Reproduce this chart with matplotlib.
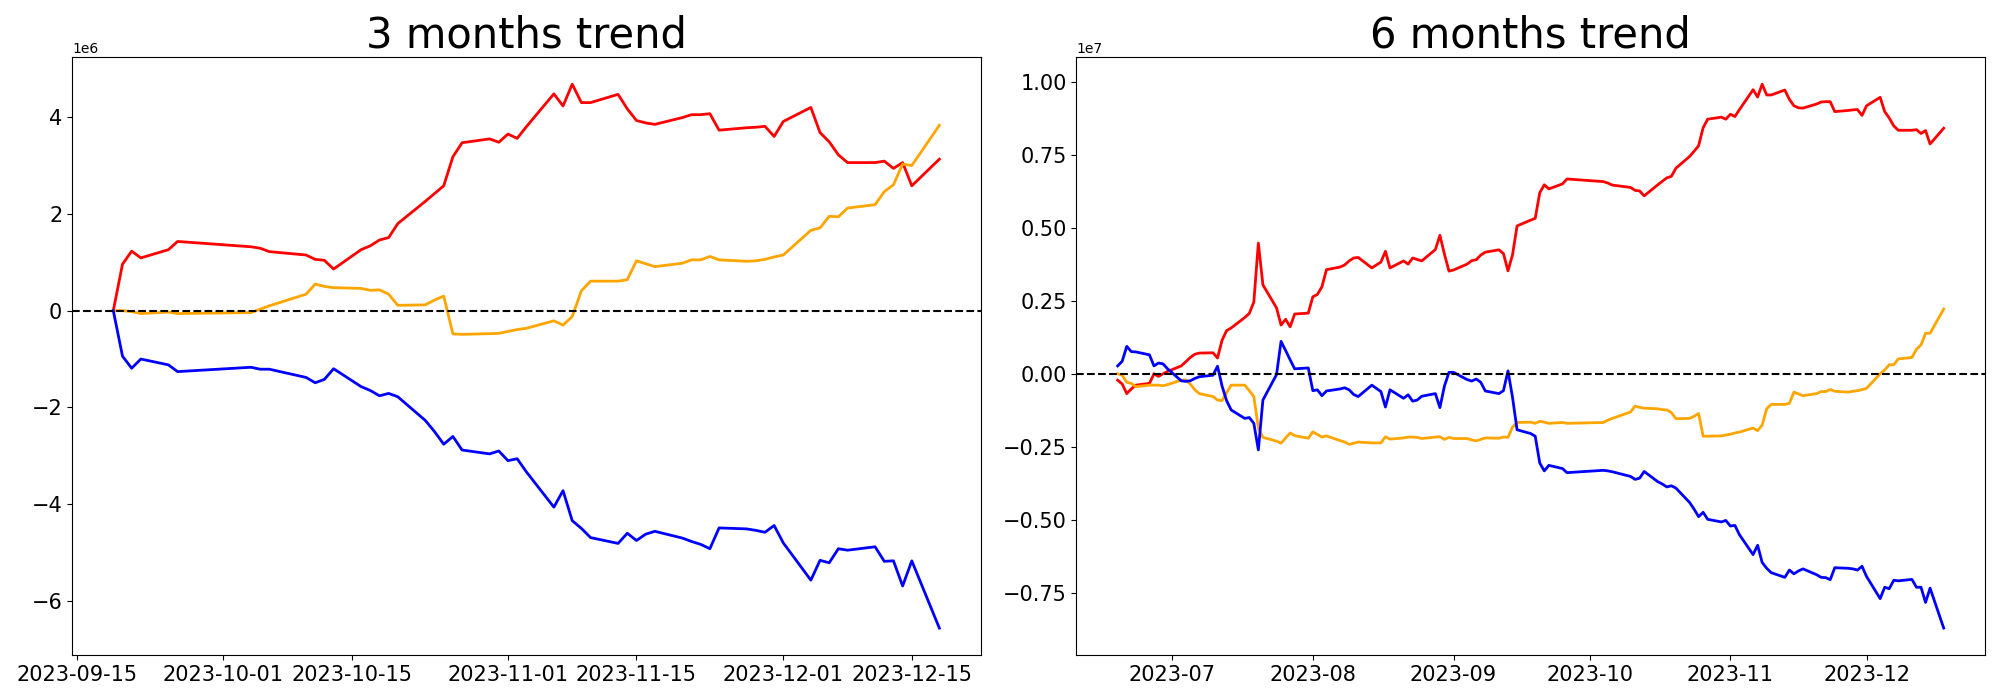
import numpy as np
import pandas as pd
import matplotlib.pyplot as plt

# trading days (market closed on these)
closed = ['2023-08-15', '2023-09-27', '2023-09-28', '2023-09-29',
          '2023-10-02', '2023-10-03', '2023-10-09']
days_6m = pd.bdate_range('2023-06-19', '2023-12-18').drop(pd.to_datetime(closed))
days_3m = days_6m[days_6m >= '2023-09-19']

# 3 months, units of 1e6
red_3m = [0, 0.96, 1.23, 1.09, 1.26, 1.43,
          1.32, 1.29, 1.22, 1.15, 1.06, 1.04, 0.86, 1.26, 1.34, 1.46, 1.51, 1.80, 2.26, 2.42, 2.58, 3.18, 3.47, 3.55, 3.48,
          3.65, 3.56, 3.80, 4.48, 4.23, 4.68, 4.30, 4.30, 4.47, 4.17, 3.93, 3.88, 3.85, 3.99, 4.05, 4.05, 4.07, 3.73, 3.78, 3.79, 3.81, 3.60,
          3.91, 4.20, 3.68, 3.49, 3.22, 3.06, 3.06, 3.09, 2.94, 3.06, 2.58, 3.13]
orange_3m = [0, 0.0, -0.02, -0.06, -0.03, -0.06,
             -0.04, 0.03, 0.10, 0.34, 0.55, 0.50, 0.475, 0.46, 0.42, 0.43, 0.34, 0.11, 0.12, 0.22, 0.30, -0.48, -0.49, -0.475, -0.47,
             -0.43, -0.39, -0.365, -0.21, -0.30, -0.12, 0.41, 0.61, 0.61, 0.64, 1.03, 0.97, 0.91, 0.98, 1.05, 1.05, 1.12, 1.05, 1.02, 1.03, 1.06, 1.11,
             1.15, 1.66, 1.71, 1.95, 1.94, 2.12, 2.19, 2.46, 2.60, 3.03, 3.00, 3.83]
blue_3m = [0, -0.94, -1.19, -1.0, -1.12, -1.26,
           -1.17, -1.21, -1.21, -1.38, -1.49, -1.42, -1.20, -1.57, -1.65, -1.76, -1.71, -1.78, -2.27, -2.50, -2.76, -2.60, -2.88, -2.96, -2.90,
           -3.10, -3.06, -3.33, -4.06, -3.72, -4.34, -4.50, -4.69, -4.81, -4.60, -4.75, -4.62, -4.56, -4.70, -4.77, -4.83, -4.92, -4.49, -4.51, -4.54, -4.58, -4.44,
           -4.80, -5.57, -5.16, -5.21, -4.92, -4.95, -4.88, -5.18, -5.17, -5.69, -5.17, -6.56]

# 6 months, units of 1e7
red_6m = [-0.022, -0.035, -0.068, -0.052, -0.039, -0.033, 0.0, -0.009, 0.0, 0.008,
          0.027, 0.041, 0.056, 0.067, 0.071, 0.072, 0.054, 0.115, 0.148, 0.157, 0.193, 0.207, 0.246, 0.448, 0.305, 0.226, 0.167, 0.187, 0.161, 0.205, 0.208,
          0.264, 0.272, 0.298, 0.357, 0.366, 0.373, 0.387, 0.397, 0.399, 0.363, 0.383, 0.42, 0.363, 0.387, 0.376, 0.397, 0.392, 0.387, 0.426, 0.475, 0.41, 0.352,
          0.356, 0.376, 0.388, 0.391, 0.407, 0.417, 0.425, 0.412, 0.353, 0.408, 0.507, 0.527, 0.533, 0.621, 0.648, 0.634, 0.651, 0.668,
          0.659, 0.654, 0.647, 0.639, 0.629, 0.627, 0.610, 0.648, 0.660, 0.672, 0.677, 0.705, 0.745, 0.763, 0.782, 0.844, 0.873, 0.880, 0.873,
          0.890, 0.882, 0.906, 0.974, 0.949, 0.993, 0.956, 0.956, 0.973, 0.941, 0.919, 0.912, 0.911, 0.925, 0.932, 0.933, 0.933, 0.899, 0.903, 0.905, 0.906, 0.886,
          0.919, 0.948, 0.899, 0.877, 0.850, 0.835, 0.835, 0.837, 0.824, 0.834, 0.788, 0.842]
orange_6m = [0.0, -0.005, -0.029, -0.033, -0.044, -0.039, -0.039, -0.039, -0.041, -0.037,
             -0.022, -0.021, -0.035, -0.055, -0.068, -0.078, -0.090, -0.092, -0.065, -0.039, -0.039, -0.058, -0.078, -0.186, -0.218, -0.231, -0.238, -0.22, -0.203, -0.212, -0.221,
             -0.199, -0.208, -0.217, -0.213, -0.229, -0.234, -0.242, -0.238, -0.234, -0.237, -0.237, -0.216, -0.224, -0.220, -0.217, -0.217, -0.218, -0.222, -0.217, -0.216, -0.225, -0.218,
             -0.222, -0.222, -0.227, -0.230, -0.225, -0.220, -0.221, -0.217, -0.218, -0.183, -0.167, -0.166, -0.170, -0.163, -0.166, -0.170, -0.167, -0.170,
             -0.167, -0.159, -0.153, -0.131, -0.111, -0.115, -0.118, -0.120, -0.123, -0.124, -0.133, -0.154, -0.153, -0.146, -0.136, -0.214, -0.214, -0.213, -0.210,
             -0.207, -0.203, -0.200, -0.186, -0.195, -0.176, -0.120, -0.105, -0.105, -0.101, -0.063, -0.069, -0.075, -0.068, -0.061, -0.061, -0.054, -0.060, -0.063, -0.060, -0.058, -0.054,
             -0.050, 0.0, 0.013, 0.031, 0.031, 0.051, 0.056, 0.084, 0.099, 0.139, 0.139, 0.222]
blue_6m = [0.027, 0.043, 0.094, 0.076, 0.075, 0.065, 0.027, 0.037, 0.034, 0.017,
           -0.024, -0.026, -0.024, -0.016, -0.010, -0.005, 0.026, -0.042, -0.092, -0.124, -0.153, -0.150, -0.170, -0.261, -0.090, -0.003, 0.111, 0.08, 0.048, 0.017, 0.020,
           -0.058, -0.055, -0.075, -0.059, -0.052, -0.048, -0.055, -0.071, -0.078, -0.039, -0.061, -0.114, -0.055, -0.084, -0.072, -0.094, -0.090, -0.077, -0.068, -0.116, -0.042, 0.005,
           0.005, -0.020, -0.025, -0.018, -0.029, -0.059, -0.068, -0.058, 0.010, -0.081, -0.192, -0.205, -0.214, -0.306, -0.333, -0.314, -0.325, -0.339,
           -0.331, -0.333, -0.336, -0.352, -0.362, -0.358, -0.335, -0.370, -0.378, -0.388, -0.384, -0.392, -0.441, -0.464, -0.490, -0.475, -0.499, -0.508, -0.503,
           -0.522, -0.520, -0.552, -0.620, -0.588, -0.647, -0.667, -0.682, -0.698, -0.673, -0.686, -0.676, -0.669, -0.689, -0.698, -0.699, -0.706, -0.665, -0.667, -0.669, -0.673, -0.660,
           -0.695, -0.771, -0.732, -0.737, -0.708, -0.710, -0.705, -0.732, -0.732, -0.784, -0.735, -0.872]

fig, axes = plt.subplots(1, 2, figsize=(20, 7), dpi=100)

panels = [
    (axes[0], days_3m, red_3m, orange_3m, blue_3m, 1e6, '3 months trend'),
    (axes[1], days_6m, red_6m, orange_6m, blue_6m, 1e7, '6 months trend'),
]
for ax, days, red, orange, blue, unit, title in panels:
    ax.plot(days, np.array(red) * unit, color='red', linewidth=2)
    ax.plot(days, np.array(orange) * unit, color='orange', linewidth=2)
    ax.plot(days, np.array(blue) * unit, color='blue', linewidth=2)
    ax.axhline(0, color='black', linestyle='--', linewidth=1.5)
    ax.set_title(title, fontsize=30)
    ax.tick_params(labelsize=15)

fig.tight_layout()
fig.savefig('out.png')
